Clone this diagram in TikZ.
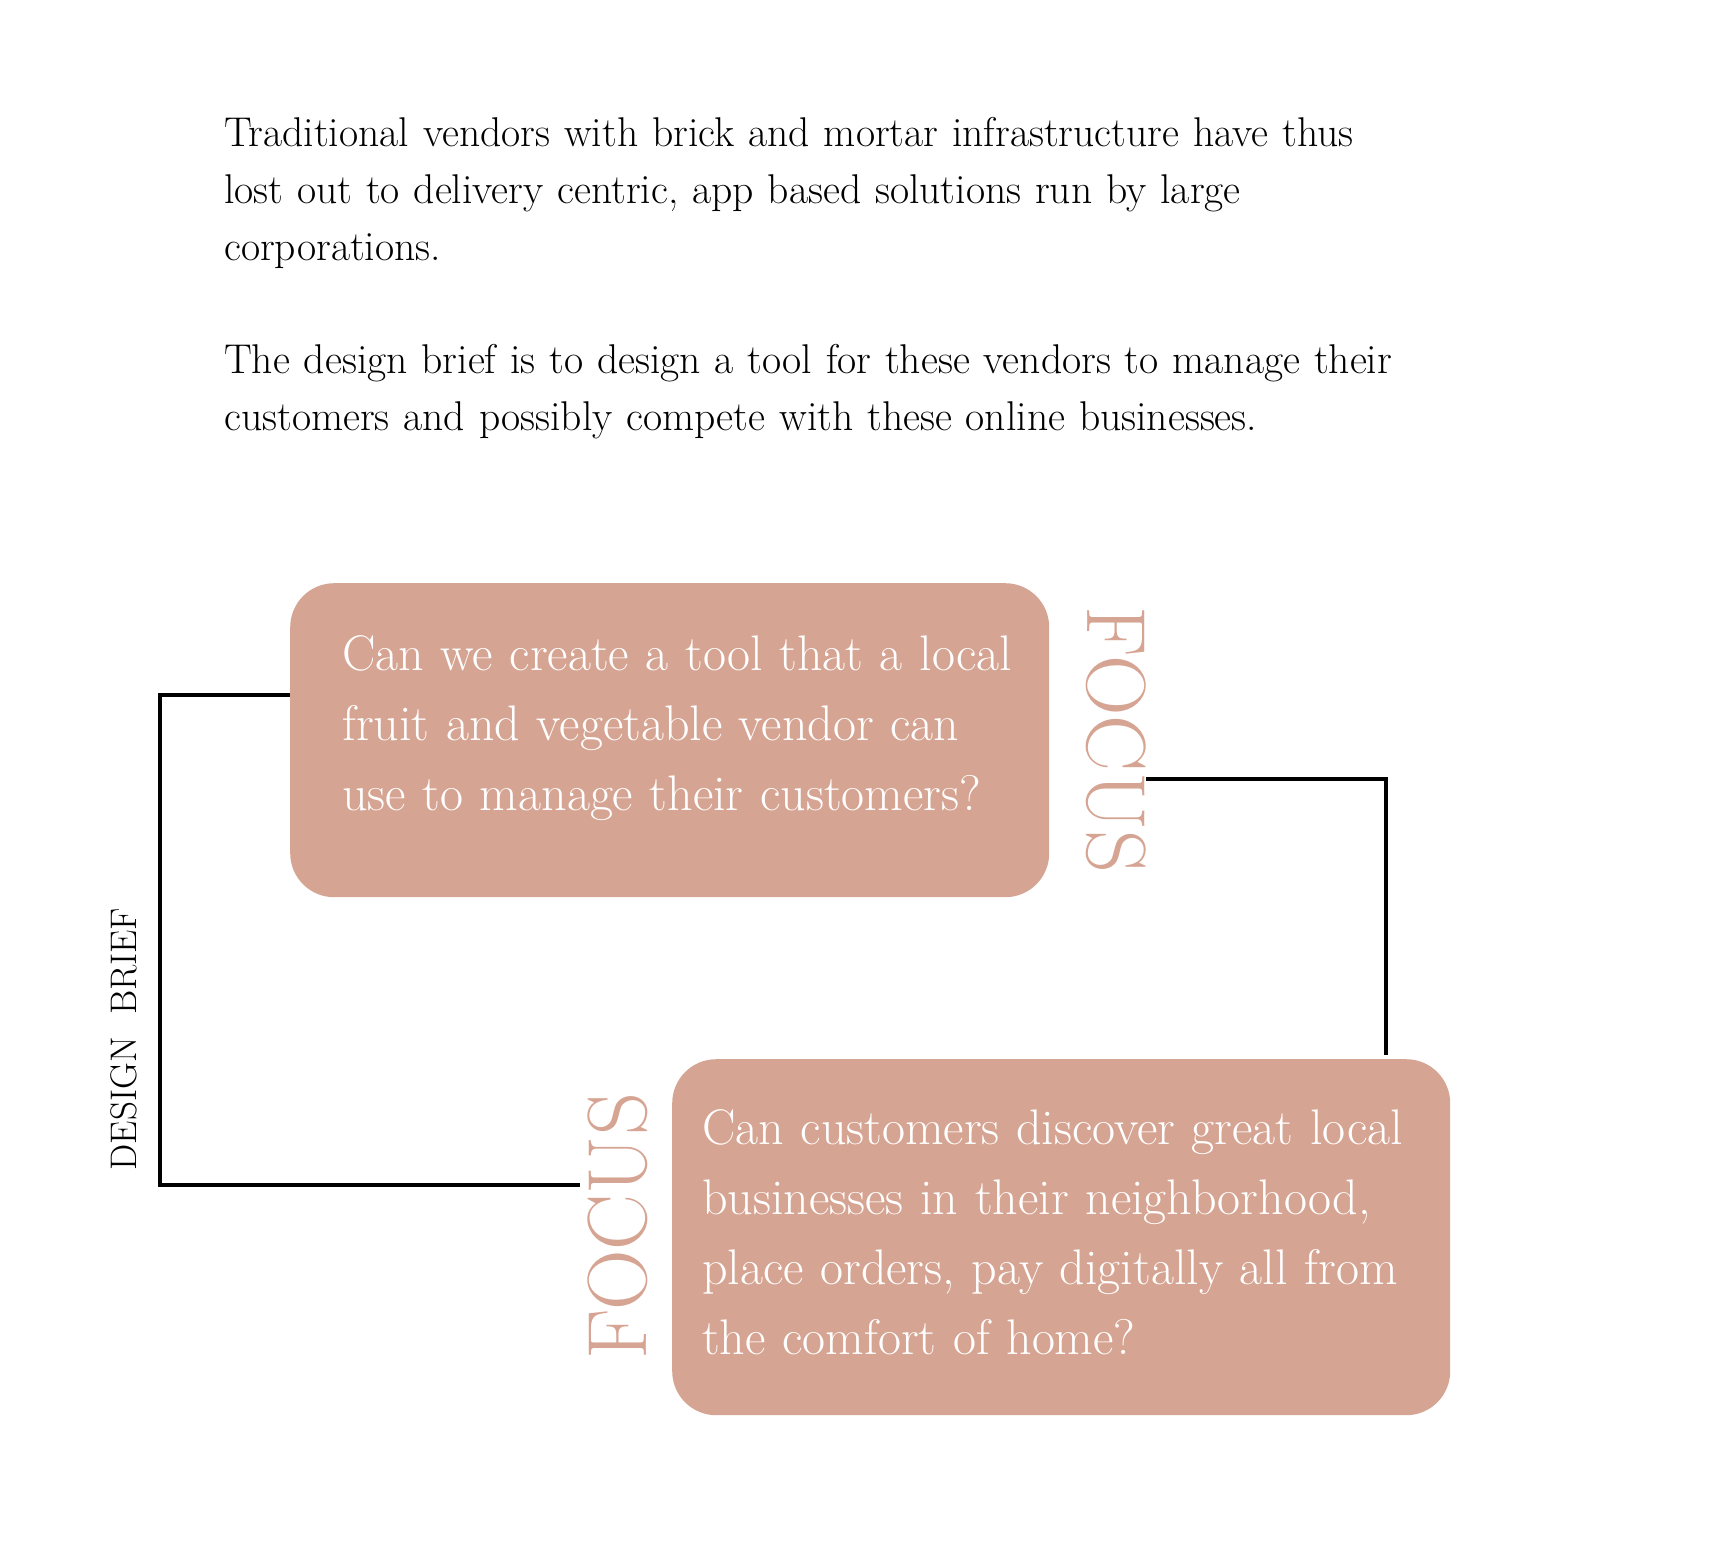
\documentclass[tikz,border=0pt]{standalone}
\usepackage{fontspec}
\definecolor{rose}{RGB}{214,164,146}
\begin{document}
\begin{tikzpicture}[x=1pt,y=-1pt]
\tikzset{
  para/.style={anchor=base west, inner sep=0, align=left, text width=1400pt,
    font=\fontsize{41.6}{57}\selectfont},
  card/.style={fill=rose, rounded corners=44pt, inner sep=0, anchor=north west},
  cardtext/.style={anchor=base west, inner sep=0, align=left, text width=760pt, text=white,
    font=\fontsize{50}{70}\selectfont},
  focuslabel/.style={text=rose, inner sep=0,
    font={\fontsize{84}{84}\selectfont\addfontfeature{LetterSpace=6}}},
  brieflabel/.style={inner sep=0, font={\fontsize{37}{37}\selectfont\addfontfeature{LetterSpace=3}}},
  wire/.style={line width=4.4pt, black},
}
\useasboundingbox (0,0) rectangle (1720,1566);
\fill[white] (0,0) rectangle (1720,1566);

\node[para] (p1) at (224,146) {Traditional vendors with brick and mortar infrastructure have thus\\
lost out to delivery centric, app based solutions run by large\\
corporations.};
\node[para] (p2) at (224,373) {The design brief is to design a tool for these vendors to manage their\\
customers and possibly compete with these online businesses.};

\node[card, minimum width=759pt, minimum height=314pt] (c1) at (290,583) {};
\node[card, minimum width=778pt, minimum height=356pt] (c2) at (672,1059) {};
\node[cardtext] (c1t) at ([xshift=52pt, yshift=-87pt]c1.north west)
  {Can we create a tool that a local\\ fruit and vegetable vendor can\\ use to manage their customers?};
\node[cardtext] (c2t) at ([xshift=30pt, yshift=-85pt]c2.north west)
  {Can customers discover great local\\ businesses in their neighborhood,\\ place orders, pay digitally all from\\ the comfort of home?};

\node[focuslabel, rotate=-90] (f1) at (1116,740) {FOCUS};
\node[focuslabel, rotate=90] (f2) at (618,1226) {FOCUS};
\node[brieflabel, rotate=90] (brief) at (124,1039) {DESIGN\ \ BRIEF};

\coordinate (la) at ([yshift=-112pt]c1.north west);
\coordinate (lc) at (160,1185);
\coordinate (fl) at ([xshift=-8pt]f2.north);
\draw[wire] (la) -| (lc) -- (fl |- lc);
\draw[wire] (f1.north |- 0,779) -| ([yshift=4pt]c2.north -| 1386,0);
\end{tikzpicture}
\end{document}
